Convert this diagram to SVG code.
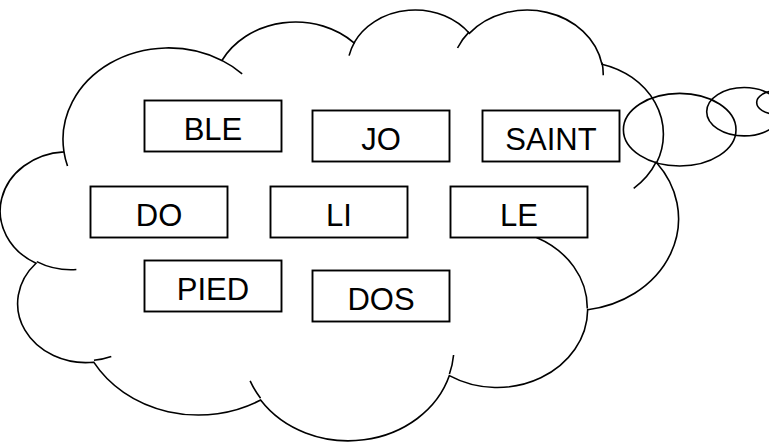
<svg xmlns="http://www.w3.org/2000/svg" width="769" height="442" viewBox="0 0 769 442">
  <style>
    .ln { fill: none; stroke: #000; stroke-width: 1.6; }
    .box { fill: #fff; stroke: #000; stroke-width: 1.9; }
    .lbl { font-family: "Liberation Sans", Arial, sans-serif; font-size: 31px; fill: #000; text-anchor: middle; }
  </style>
  <rect width="769" height="442" fill="#fff"/>
  <g id="cloud" transform="translate(3,8.6) scale(0.015631,0.009969)">
    <path class="ln" vector-effect="non-scaling-stroke" d="M3900,14370 A6753,9190 0 0 1 14005,5202 A5333,7267 0 0 1 22456,3432 A4365,5945 0 0 1 29833,2481 A4857,6595 0 0 1 38318,5576 A5333,7273 0 0 1 41818,15459 A6775,9220 0 0 1 37404,30202 A5785,7867 0 0 1 28556,36812 A6752,9215 0 0 1 16481,39264 A7720,10543 0 0 1 5804,35468 A4360,5918 0 0 1 2113,25546 A4345,5945 0 0 1 3900,14370 Z"/>
    <path class="ln" vector-effect="non-scaling-stroke" d="M4693,26177 A4345,5945 0 0 1 2160,25380 M6928,34899 A4360,5918 0 0 1 5820,35281 M16478,39090 A6752,9215 0 0 1 15810,37350 M28827,34751 A6752,9215 0 0 1 28560,36660 M34129,22954 A5785,7867 0 0 1 37380,30090 M41798,15354 A5333,7273 0 0 1 40350,18030 M38324,5426 A4857,6595 0 0 1 38400,6690 M29078,3952 A4857,6595 0 0 1 29820,2339 M22141,4720 A4365,5945 0 0 1 22500,3330 M14000,5192 A6753,9190 0 0 1 15300,6540 M4127,15789 A6753,9190 0 0 1 3900,14370"/>
  </g>
  <g id="bubbles">
    <ellipse class="ln" cx="679.7" cy="129.7" rx="56.3" ry="36.3"/>
    <ellipse class="ln" cx="744.2" cy="111.7" rx="37.5" ry="24.2"/>
    <ellipse class="ln" cx="775.5" cy="102.5" rx="18.8" ry="11.5"/>
  </g>
  <g id="ble"><rect class="box" x="144.5" y="100.5" width="137" height="51"/><text class="lbl" x="213" y="140">BLE</text></g>
  <g id="jo"><rect class="box" x="312.5" y="110.5" width="137" height="51"/><text class="lbl" x="381" y="150">JO</text></g>
  <g id="saint"><rect class="box" x="482.5" y="110.5" width="137" height="51"/><text class="lbl" x="551" y="150">SAINT</text></g>
  <g id="do"><rect class="box" x="90.5" y="186.5" width="137" height="51"/><text class="lbl" x="159" y="226">DO</text></g>
  <g id="li"><rect class="box" x="270.5" y="186.5" width="137" height="51"/><text class="lbl" x="339" y="226">LI</text></g>
  <g id="le"><rect class="box" x="450.5" y="186.5" width="137" height="51"/><text class="lbl" x="519" y="226">LE</text></g>
  <g id="pied"><rect class="box" x="144.5" y="260.5" width="137" height="51"/><text class="lbl" x="213" y="300">PIED</text></g>
  <g id="dos"><rect class="box" x="312.5" y="270.5" width="137" height="51"/><text class="lbl" x="381" y="310">DOS</text></g>
</svg>
